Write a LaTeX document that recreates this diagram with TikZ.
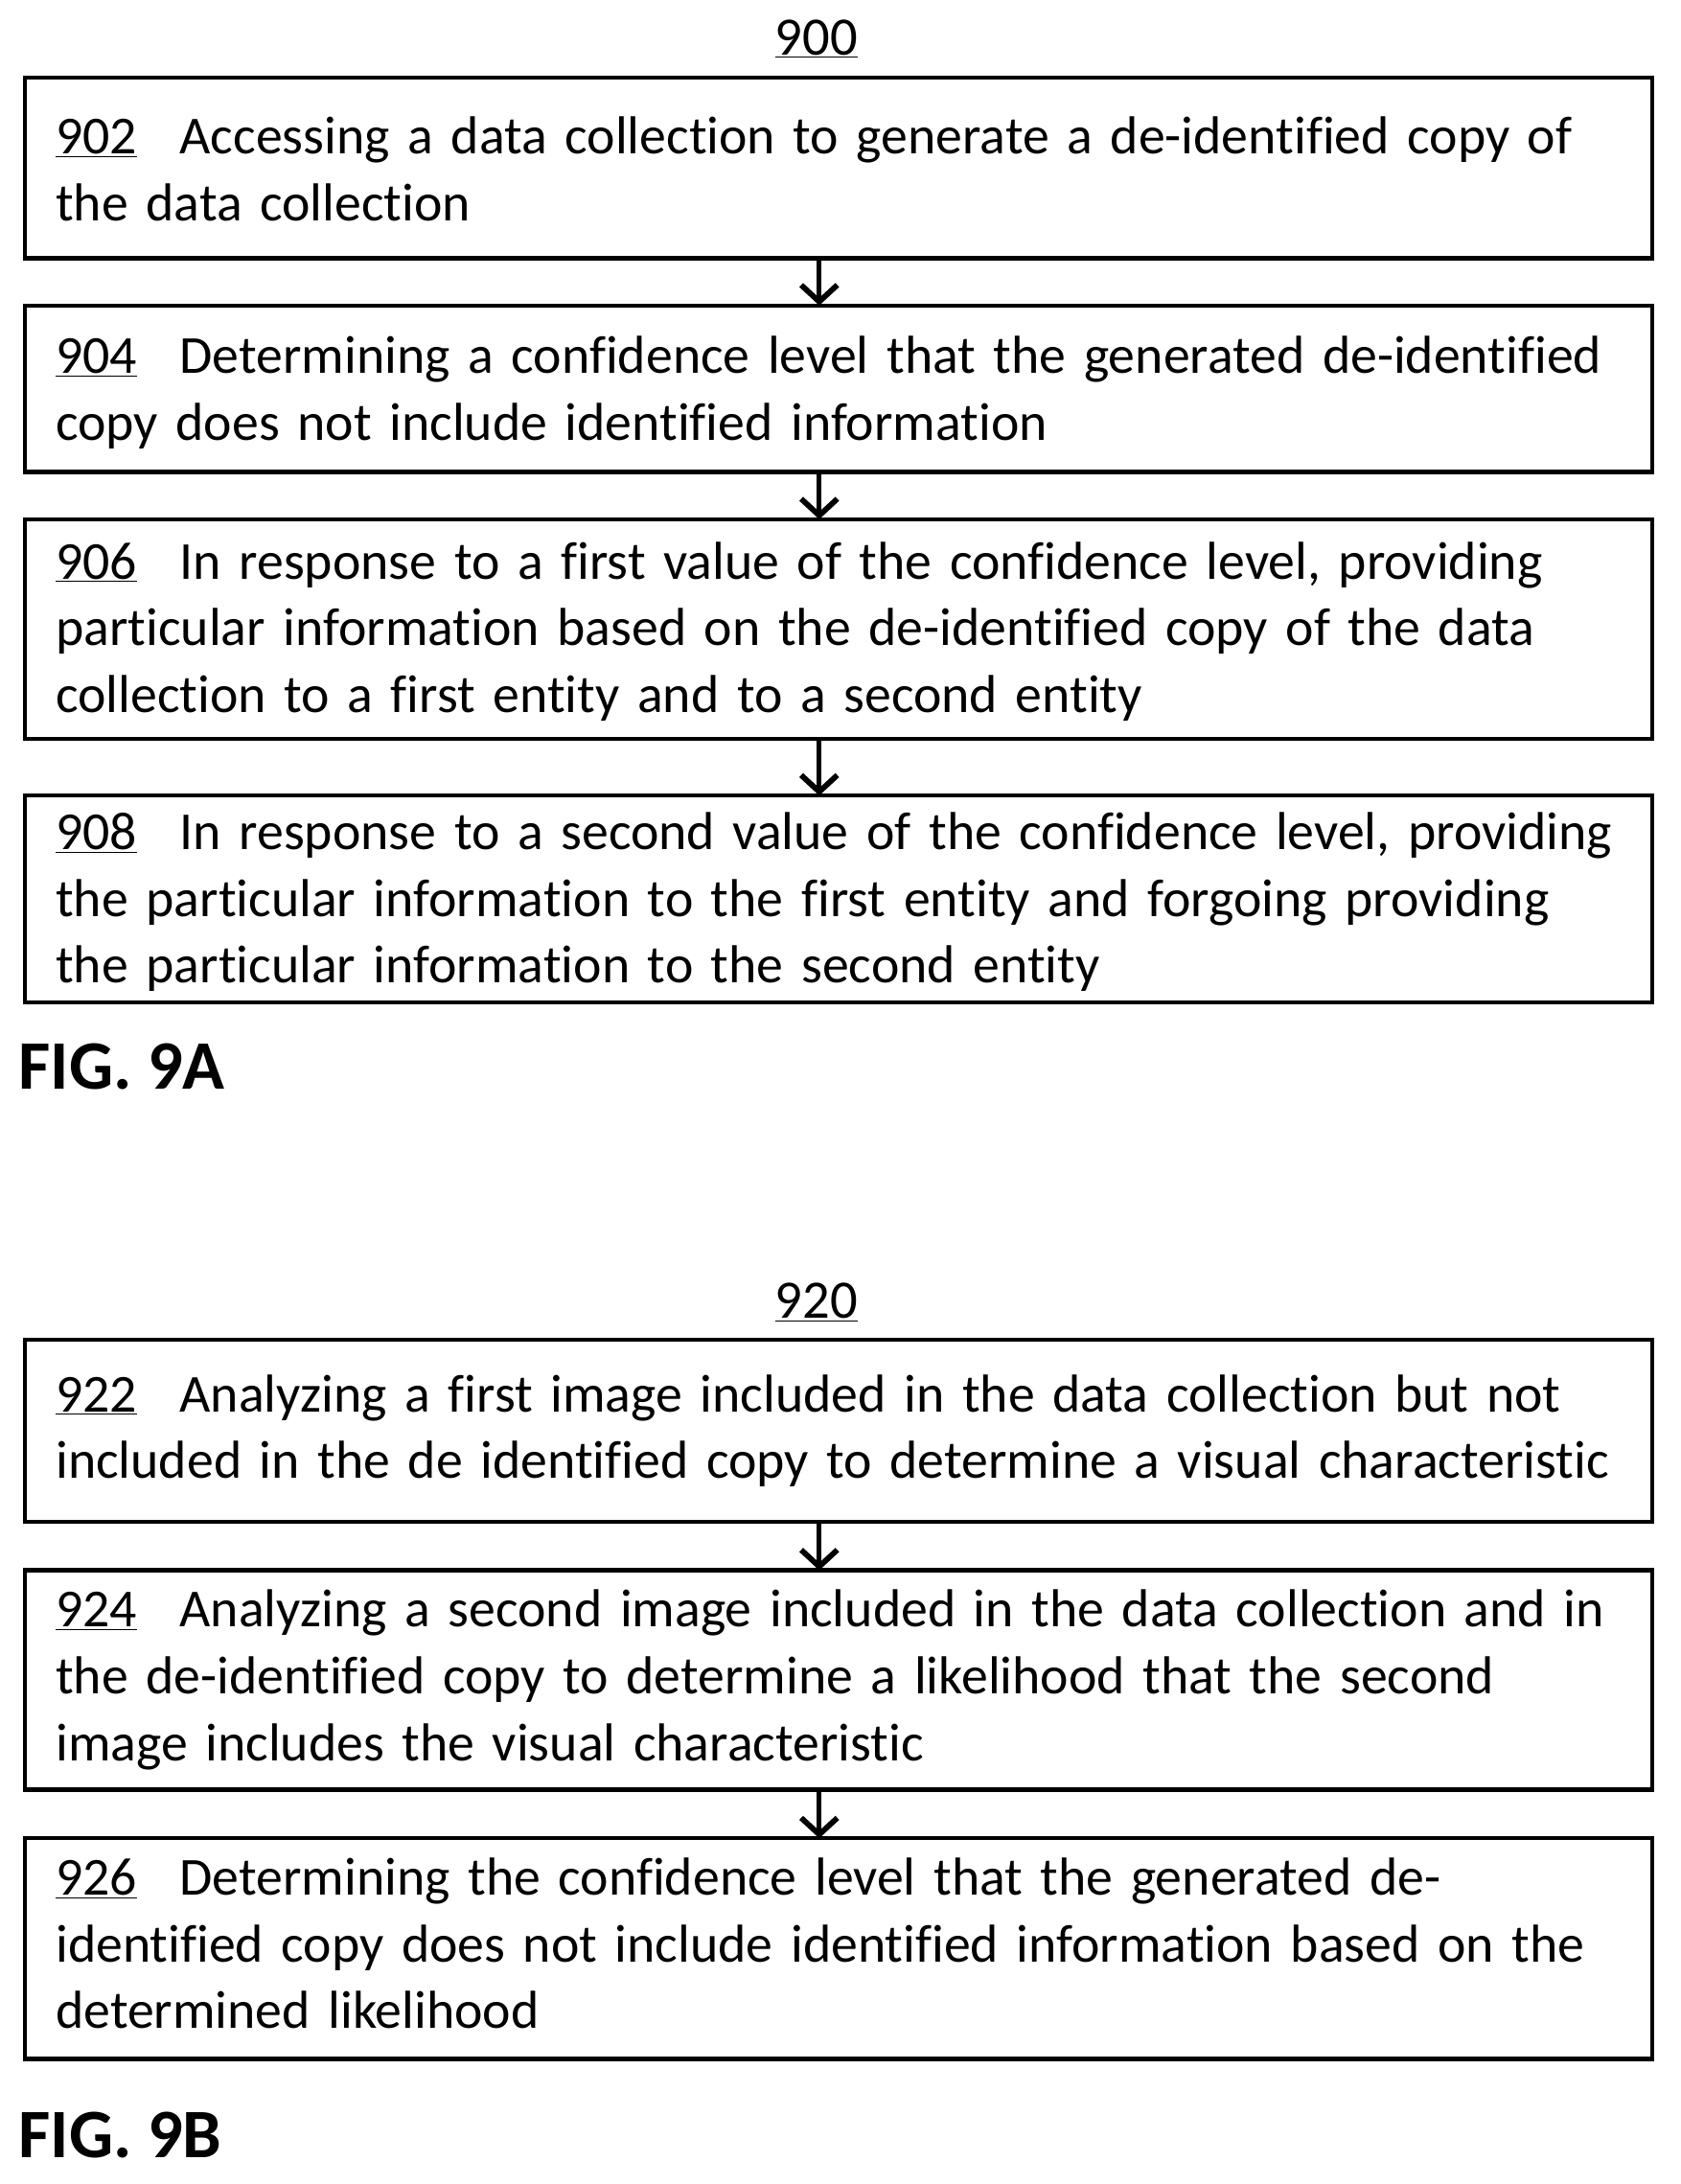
\documentclass[tikz,border=0pt]{standalone}
\usepackage{fontspec}
\setmainfont[Ligatures=NoCommon]{Carlito}
\usetikzlibrary{arrows.meta}
\begin{document}
\begin{tikzpicture}[x=1pt,y=-1pt,
  box/.style={draw,line width=3pt},
  txt/.style={anchor=north west,inner sep=0pt,text width=1160pt,align=left,font=\fontsize{38.5}{48}\selectfont},
  arr/.style={line width=3.5pt,-{Straight Barb[length=12pt,width=26pt,line width=4pt]}}]
\useasboundingbox (0,0) rectangle (1210,1573);
\newcommand{\bx}[5]{%
  \draw[box] (18,#2) rectangle (1190,#3);
  \coordinate (#1t) at (590,#2); \coordinate (#1b) at (590,#3);
  \node[txt] (#1) at (40,#2+#4) {#5};}
\node[font=\fontsize{39}{40}\selectfont] (t900) at (588,28) {\underline{900}};
\bx{a}{56}{186}{28}{\underline{902}\hspace{0.8em}Accessing a data collection to generate a de-identified copy of\\the data collection}
\bx{b}{220}{340}{22}{\underline{904}\hspace{0.8em}Determining a confidence level that the generated de-identified\\copy does not include identified information}
\bx{c}{374}{532}{16}{\underline{906}\hspace{0.8em}In response to a first value of the confidence level, providing\\particular information based on the de-identified copy of the data\\collection to a first entity and to a second entity}
\bx{d}{573}{722}{12}{\underline{908}\hspace{0.8em}In response to a second value of the confidence level, providing\\the particular information to the first entity and forgoing providing\\the particular information to the second entity}
\node[anchor=west,font=\fontsize{50}{52}\selectfont\bfseries] (f9a) at (10,768) {FIG. 9A};
\node[font=\fontsize{39}{40}\selectfont] (t920) at (588,938) {\underline{920}};
\bx{e}{965}{1096}{25}{\underline{922}\hspace{0.8em}Analyzing a first image included in the data collection but not\\included in the de identified copy to determine a visual characteristic}
\bx{f}{1131}{1289}{14}{\underline{924}\hspace{0.8em}Analyzing a second image included in the data collection and in\\the de-identified copy to determine a likelihood that the second\\image includes the visual characteristic}
\bx{g}{1324}{1483}{14}{\underline{926}\hspace{0.8em}Determining the confidence level that the generated de-\\identified copy does not include identified information based on the\\determined likelihood}
\node[anchor=west,font=\fontsize{50}{52}\selectfont\bfseries] (f9b) at (10,1538) {FIG. 9B};
\draw[arr] (ab) -- (bt);
\draw[arr] (bb) -- (ct);
\draw[arr] (cb) -- (dt);
\draw[arr] (eb) -- (ft);
\draw[arr] (fb) -- (gt);
\end{tikzpicture}
\end{document}
